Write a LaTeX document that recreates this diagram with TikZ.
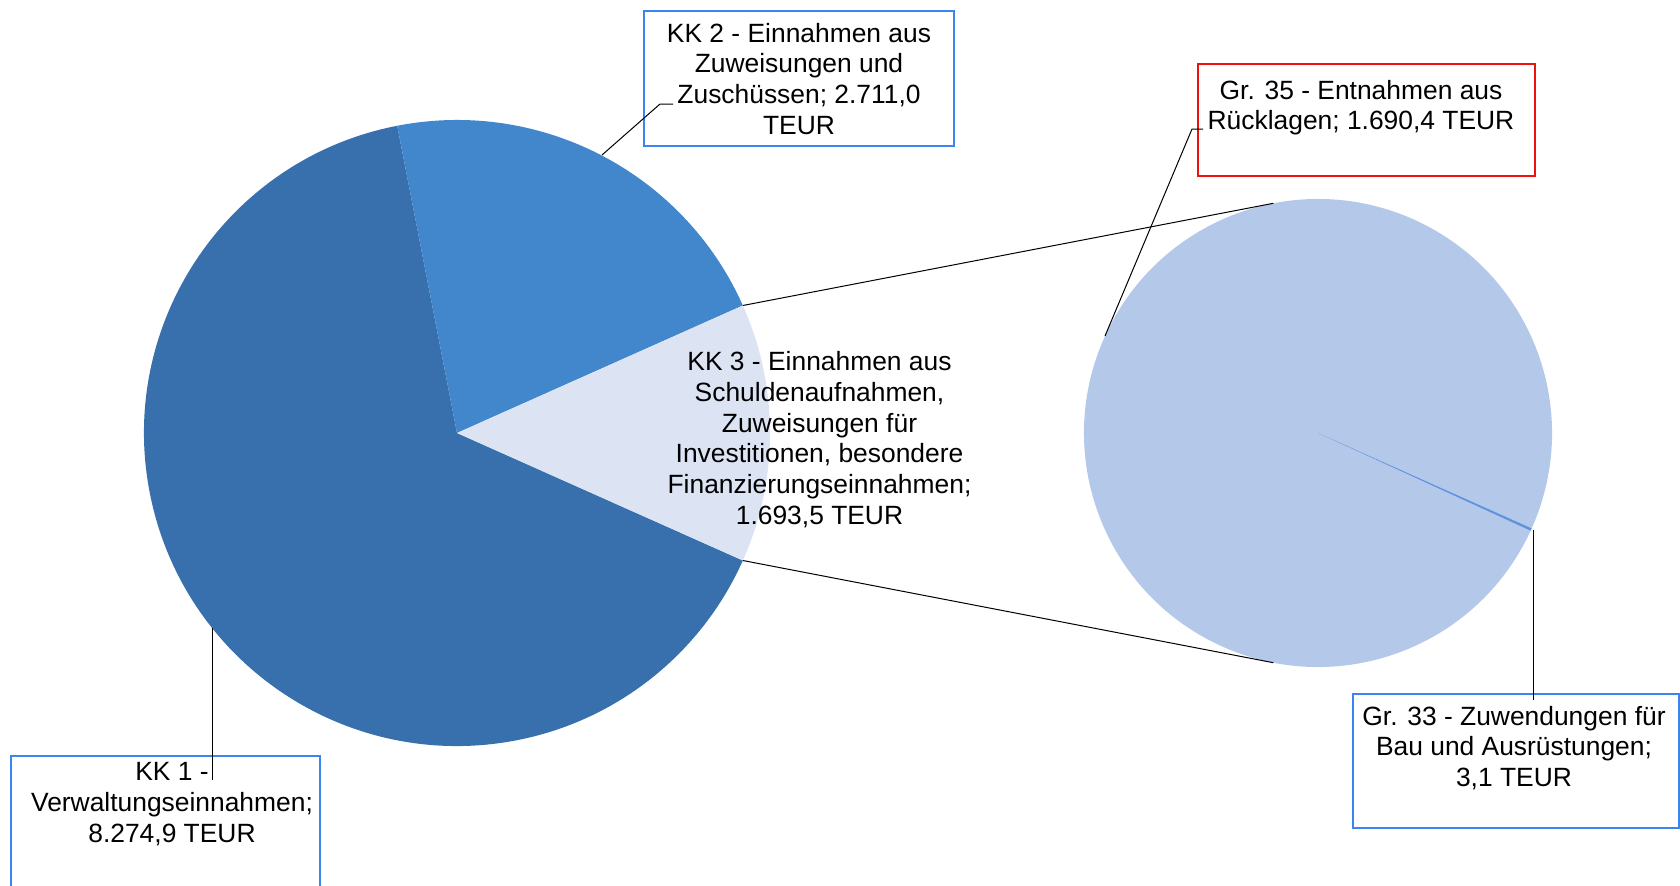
\documentclass[tikz,border=0pt]{standalone}
\usepackage{fontspec}
\setmainfont{Liberation Sans}
\definecolor{kkone}{HTML}{3770AD}
\definecolor{kktwo}{HTML}{4286CC}
\definecolor{kkthree}{HTML}{DCE4F4}
\definecolor{grfive}{HTML}{B4C8EA}
\definecolor{grthree}{HTML}{5F93DC}
\definecolor{boxblue}{HTML}{3C84F0}
\definecolor{boxred}{HTML}{F01010}
\begin{document}
\begin{tikzpicture}[x=1bp,y=-1bp,
  lbl/.style={align=center, inner sep=0pt, font=\fontsize{26.4bp}{30.8bp}\selectfont},
  lead/.style={draw=black, line width=1bp},
  bluebox/.style={draw=boxblue, line width=2bp, fill=white, rectangle, inner sep=0pt, anchor=north west},
  redbox/.style={draw=boxred, line width=2bp, fill=white, rectangle, inner sep=0pt, anchor=north west}]
\clip (0,0) rectangle (1680,885);
\fill[white] (0,0) rectangle (1680,885);
% left pie
\coordinate (L) at (457,433);
\fill[kkone] (L) -- ++(-101.01:313) arc[start angle=-101.01, end angle=-335.96, radius=313] -- cycle;
\fill[kktwo] (L) -- ++(-24.04:313) arc[start angle=-24.04, end angle=-101.01, radius=313] -- cycle;
\fill[kkthree] (L) -- ++(24.04:313) arc[start angle=24.04, end angle=-24.04, radius=313] -- cycle;
\path (L) ++(-24.04:313) coordinate (p23);
\path (L) ++(24.04:313) coordinate (p31);
% right pie
\coordinate (Rc) at (1318,433);
\fill[grfive] (Rc) -- ++(24.7:234) arc[start angle=24.7, end angle=384.04, radius=234] -- cycle;
\fill[grthree] (Rc) -- ++(24.04:234) arc[start angle=24.04, end angle=24.7, radius=234] -- cycle;
\path (Rc) ++(-101:234) coordinate (rt);
\path (Rc) ++(101:234) coordinate (rb);
% connectors between pies
\draw[lead] (p23) -- (rt);
\draw[lead] (p31) -- (rb);
% boxes
\node[bluebox, minimum width=309bp, minimum height=200bp] (b1) at (10,755) {};
\node[bluebox, minimum width=310bp, minimum height=135bp] (b2) at (643,10) {};
\node[redbox, minimum width=337bp, minimum height=112bp] (b35) at (1197,63) {};
\node[bluebox, minimum width=326bp, minimum height=134bp] (b33) at (1352,693) {};
% leader lines
\coordinate (k1a) at (212,628);
\coordinate (k1b) at (212,780);
\draw[lead] (k1a) -- (k1b);
\coordinate (k2a) at (602,155);
\coordinate (k2b) at (660,104);
\coordinate (k2c) at (673,104);
\draw[lead] (k2a) -- (k2b) -- (k2c);
\coordinate (g5a) at (1105,336);
\coordinate (g5b) at (1192,129);
\coordinate (g5c) at (1203,129);
\draw[lead] (g5a) -- (g5b) -- (g5c);
\coordinate (g3a) at (1533,530);
\coordinate (g3b) at (1533,700);
\draw[lead] (g3a) -- (g3b);
% labels
\node[lbl] (t1) at (172,805.5) {\strut KK 1 -\\Verwaltungseinnahmen;\\8.274,9 TEUR\strut};
\node[lbl] (t2) at (799,82.1) {\strut KK 2 - Einnahmen aus\\Zuweisungen und\\Zuschüssen; 2.711,0\\TEUR\strut};
\node[lbl] (t3) at (819.5,441.3) {\strut KK 3 - Einnahmen aus\\Schuldenaufnahmen,\\Zuweisungen für\\Investitionen, besondere\\Finanzierungseinnahmen;\\1.693,5 TEUR\strut};
\node[lbl] (t35) at (1361,108.3) {\strut Gr. 35 - Entnahmen aus\\Rücklagen; 1.690,4 TEUR\strut};
\node[lbl] (t33) at (1514,749.7) {\strut Gr. 33 - Zuwendungen für\\Bau und Ausrüstungen;\\3,1 TEUR\strut};
\end{tikzpicture}
\end{document}
